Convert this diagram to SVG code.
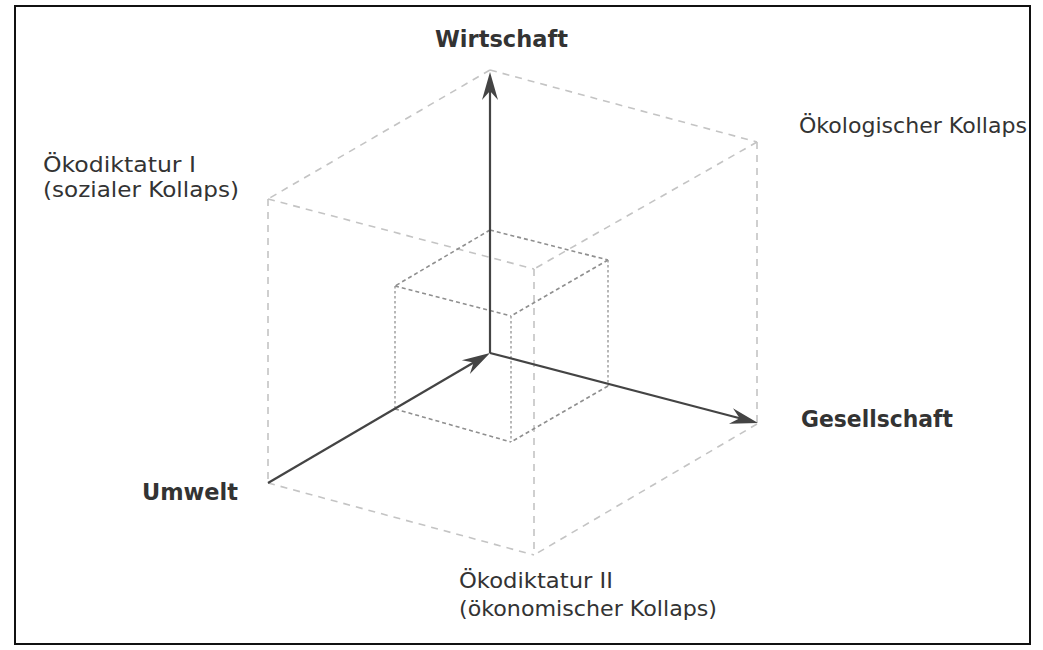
<svg xmlns="http://www.w3.org/2000/svg" width="1043" height="650" viewBox="0 0 1043 650">
  <style>
    .bg { fill: #ffffff; }
    .frame { fill: none; stroke: #111111; stroke-width: 2; }
    .outer { fill: none; stroke: #c4c4c4; stroke-width: 1.6; stroke-dasharray: 7 6; }
    .inner { fill: none; stroke: #8f8f8f; stroke-width: 1.6; stroke-dasharray: 4 3; }
    .innerv { fill: none; stroke: #999999; stroke-width: 1.4; stroke-dasharray: 2.5 2.5; }
    .axis { fill: none; stroke: #444444; stroke-width: 2.2; }
    .bold { font-family: "DejaVu Sans", Verdana, sans-serif; font-weight: bold; font-size: 23px; fill: #333333; }
    .reg { font-family: "DejaVu Sans", Verdana, sans-serif; font-size: 21px; fill: #333333; }
  </style>
  <defs>
    <marker id="arrow" viewBox="-30 -10 40 20" refX="-8" refY="0" markerWidth="40" markerHeight="20" markerUnits="userSpaceOnUse" orient="auto">
      <path d="M0,0 L-28,-8 L-19,0 L-28,8 Z" fill="#444444"/>
    </marker>
  </defs>

  <rect class="bg" x="0" y="0" width="1043" height="650"/>
  <rect id="frame" class="frame" x="15" y="6" width="1015" height="638"/>

  <g id="outer-cube">
    <path class="outer" d="M490,70 L268,199 M490,70 L757,142 M268,199 L534,269 M757,142 L534,269"/>
    <path class="outer" d="M268,199 L268,483 M757,142 L757,424 M534,269 L534,555"/>
    <path class="outer" d="M268,483 L534,555 M757,424 L534,555"/>
  </g>

  <g id="inner-cube">
    <path class="inner" d="M490,230 L395,286 M490,230 L608,260 M395,286 L511,316 M608,260 L511,316"/>
    <path class="inner" d="M395,409 L511,442 M608,386 L511,442"/>
    <path class="innerv" d="M395,286 L395,409 M608,260 L608,386 M511,316 L511,442"/>
  </g>

  <g id="connectors">
    <line id="axis-wirtschaft" class="axis" x1="490" y1="353" x2="490" y2="80" marker-end="url(#arrow)"/>
    <line id="axis-gesellschaft" class="axis" x1="490" y1="353" x2="750.3" y2="421" marker-end="url(#arrow)"/>
    <line id="axis-umwelt" class="axis" x1="268" y1="483" x2="483.1" y2="357" marker-end="url(#arrow)"/>
  </g>

  <g id="label-wirtschaft">
    <text class="bold" x="435" y="47" textLength="133" lengthAdjust="spacingAndGlyphs">Wirtschaft</text>
  </g>
  <g id="label-gesellschaft">
    <text class="bold" x="801" y="427" textLength="152" lengthAdjust="spacingAndGlyphs">Gesellschaft</text>
  </g>
  <g id="label-umwelt">
    <text class="bold" x="142" y="500" textLength="96" lengthAdjust="spacingAndGlyphs">Umwelt</text>
  </g>
  <g id="label-oekodiktatur-1">
    <text class="reg" x="43" y="172" textLength="153" lengthAdjust="spacingAndGlyphs">Ökodiktatur I</text>
    <text class="reg" x="43" y="197" textLength="196" lengthAdjust="spacingAndGlyphs">(sozialer Kollaps)</text>
  </g>
  <g id="label-oekologischer-kollaps">
    <text class="reg" x="799" y="133" textLength="228" lengthAdjust="spacingAndGlyphs">Ökologischer Kollaps</text>
  </g>
  <g id="label-oekodiktatur-2">
    <text class="reg" x="459" y="588" textLength="154" lengthAdjust="spacingAndGlyphs">Ökodiktatur II</text>
    <text class="reg" x="459" y="616" textLength="258" lengthAdjust="spacingAndGlyphs">(ökonomischer Kollaps)</text>
  </g>
</svg>
